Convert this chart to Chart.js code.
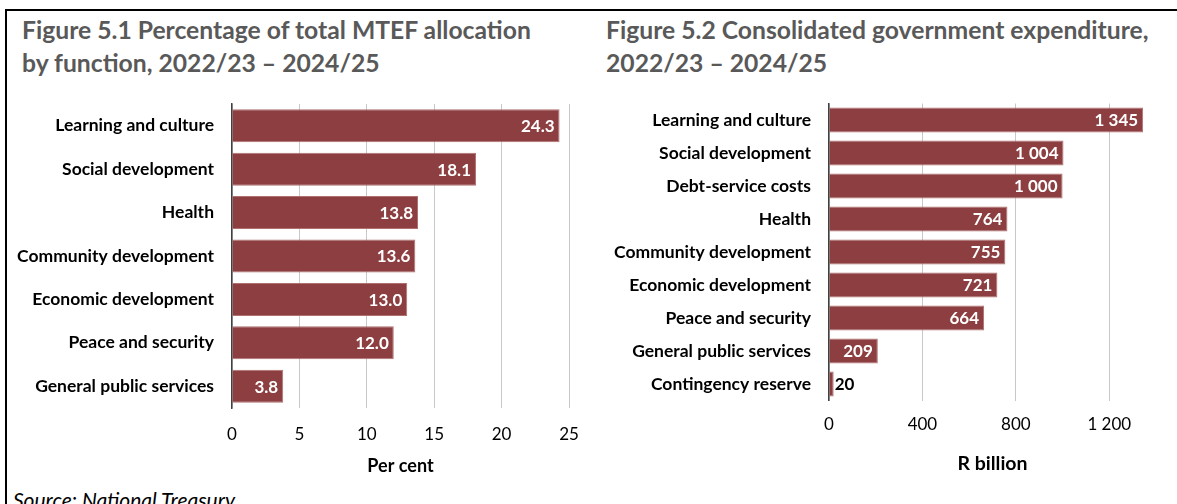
<!DOCTYPE html>
<html>
<head>
<meta charset="utf-8">
<script src="https://cdn.jsdelivr.net/npm/chart.js@4.4.0/dist/chart.umd.min.js"></script>
<style>
  body { margin: 0; background: #fff; width: 1177px; height: 504px; overflow: hidden; position: relative; font-family: Lato, sans-serif; }
  .frame { position: absolute; left: 5px; top: 9px; width: 1180px; height: 520px; border-left: 2px solid #000; border-top: 2px solid #000; }
  .title { position: absolute; font-weight: bold; color: #595959; font-size: 24.7px; line-height: 33px; white-space: nowrap; }
  .src { position: absolute; left: 13px; top: 487px; font-style: italic; font-size: 21px; color: #000; white-space: nowrap; }
  .box { position: absolute; }
</style>
</head>
<body>
<div class="frame"></div>
<div class="title" style="left:22px; top:13px;">Figure 5.1 Percentage of total MTEF allocation<br>by function, 2022/23 – 2024/25</div>
<div class="title" style="left:606px; top:13px;">Figure 5.2 Consolidated government expenditure,<br>2022/23 – 2024/25</div>
<div class="src">Source: National Treasury</div>
<div class="box" style="left:8px; top:95px; width:580px; height:385px;"><canvas id="chart1"></canvas></div>
<div class="box" style="left:596px; top:95px; width:581px; height:385px;"><canvas id="chart2"></canvas></div>
<script>
const categories1 = ['Learning and culture', 'Social development', 'Health', 'Community development', 'Economic development', 'Peace and security', 'General public services'];
const values1 = [24.3, 18.1, 13.8, 13.6, 13.0, 12.0, 3.8];
const ticks1 = [0, 5, 10, 15, 20, 25];

const categories2 = ['Learning and culture', 'Social development', 'Debt-service costs', 'Health', 'Community development', 'Economic development', 'Peace and security', 'General public services', 'Contingency reserve'];
const values2 = [1345, 1004, 1000, 764, 755, 721, 664, 209, 20];
const ticks2 = [0, 400, 800, 1200];

const barColor = '#8c3e40';
const fontFamily = 'Lato, sans-serif';

function spaced(n) {
  return String(n).replace(/\B(?=(\d{3})+(?!\d))/g, ' ');
}

// value labels: white inside the bar end, black just outside when the bar is too short
const barLabels = {
  id: 'barLabels',
  afterDatasetsDraw(chart, args, opts) {
    const ctx = chart.ctx;
    const meta = chart.getDatasetMeta(0);
    ctx.save();
    ctx.font = 'bold ' + opts.size + 'px ' + fontFamily;
    ctx.textBaseline = 'middle';
    meta.data.forEach((bar, i) => {
      const v = chart.data.datasets[0].data[i];
      const txt = opts.format(v);
      const w = ctx.measureText(txt).width;
      const len = bar.x - bar.base;
      if (len > w + 10) {
        ctx.fillStyle = '#fff';
        ctx.textAlign = 'right';
        ctx.fillText(txt, bar.x - 5, bar.y + 1);
      } else {
        ctx.fillStyle = '#000';
        ctx.textAlign = 'left';
        ctx.fillText(txt, bar.x + 1, bar.y + 1);
      }
    });
    ctx.restore();
  }
};

function makeChart(id, labels, data, tickVals, max, axisTitle, titleSize, yWidth, pad, xHeight, tickPad, titlePad, fmt) {
  return new Chart(document.getElementById(id), {
    type: 'bar',
    data: {
      labels: labels,
      datasets: [{
        data: data,
        backgroundColor: barColor,
        borderColor: '#b07070',
        borderWidth: 1,
        categoryPercentage: 1,
        barPercentage: 0.76
      }]
    },
    options: {
      indexAxis: 'y',
      responsive: true,
      maintainAspectRatio: false,
      animation: false,
      layout: { padding: pad },
      plugins: {
        legend: { display: false },
        tooltip: { enabled: false },
        barLabels: { size: 17, format: fmt }
      },
      scales: {
        x: {
          min: 0,
          max: max,
          afterBuildTicks: (scale) => { scale.ticks = tickVals.map(v => ({ value: v })); },
          afterFit: (scale) => { scale.height = xHeight; scale.paddingLeft = 0; scale.paddingRight = 0; },
          grid: { color: '#c8c8c8', lineWidth: 1, drawTicks: false },
          border: { display: false },
          ticks: {
            padding: tickPad,
            color: '#000',
            font: { family: fontFamily, size: 17 },
            callback: (v) => spaced(v)
          },
          title: {
            display: true,
            text: axisTitle,
            color: '#000',
            font: { family: fontFamily, size: titleSize, weight: 'bold' },
            padding: { top: 0, bottom: titlePad }
          }
        },
        y: {
          afterFit: (scale) => { scale.width = yWidth; scale.paddingTop = 0; scale.paddingBottom = 0; },
          grid: { display: false, drawTicks: false },
          border: { display: true, color: '#404040', width: 1.5 },
          ticks: {
            padding: 18,
            color: '#000',
            font: { family: fontFamily, size: 17.5, weight: 'bold' }
          }
        }
      }
    },
    plugins: [barLabels]
  });
}

makeChart('chart1', categories1, values1, ticks1, 25, 'Per cent', 18, 224,
  { top: 9, right: 19, left: 0, bottom: 0 }, 72, 16, 3, (v) => v.toFixed(1));
makeChart('chart2', categories2, values2, ticks2, 1400, 'R billion', 19.5, 233,
  { top: 8.5, right: 21, left: 0, bottom: 0 }, 79.5, 14, 5, (v) => spaced(v));
</script>
</body>
</html>
